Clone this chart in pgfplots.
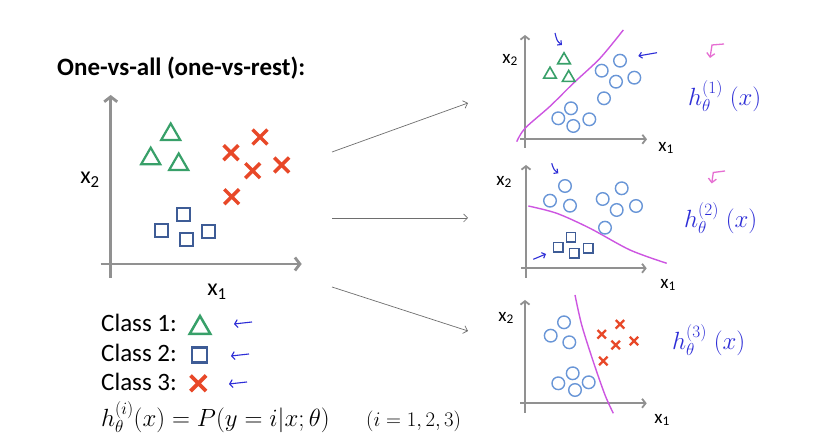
\documentclass[border=0pt]{standalone}
\usepackage{pgfplots}
\pgfplotsset{compat=1.18}
\usepackage{fontspec}
\setmainfont{Carlito}
\usetikzlibrary{arrows.meta}
\definecolor{cgreen}{RGB}{56,160,105}
\definecolor{cred}{RGB}{232,72,40}
\definecolor{cblue}{RGB}{62,92,150}
\definecolor{clight}{RGB}{105,150,215}
\definecolor{cmag}{RGB}{205,85,225}
\definecolor{axgray}{RGB}{145,145,145}
\definecolor{hand}{RGB}{45,45,215}
\definecolor{cpink}{RGB}{230,110,210}
\definecolor{arrgray}{RGB}{110,110,110}
\pgfplotsset{
  baseax/.style={x=1pt, y=1pt, axis lines=middle, anchor=south west,
    xtick=\empty, ytick=\empty, enlargelimits=false, clip=false},
  mainax/.style={baseax, axis line style={draw=axgray, line width=2.8pt,
    -{Straight Barb[length=5pt,width=13pt]}}},
  smallax/.style={baseax, axis line style={draw=axgray, line width=1.8pt,
    -{Straight Barb[length=3.5pt,width=9pt]}}},
}
\begin{document}
\begin{tikzpicture}[x=1pt,y=1pt]
\path[use as bounding box, fill=white] (0,0) rectangle (835,443);

% ---------- main plot ----------
\begin{axis}[mainax, at={(100.7pt,165pt)}, xmin=-10, xmax=191, ymin=-14, ymax=169]
\addplot[only marks, color=cgreen, mark=triangle, mark size=11pt, mark options={line width=2.2pt}]
  coordinates {(60,129.5) (40,105.3) (68,99.5)};
\addplot[only marks, color=cred, mark=x, mark size=10.5pt, mark options={line width=3.5pt}]
  coordinates {(149.3,127) (120.3,111.3) (142,93.3) (171,99) (121,67.3)};
\addplot[only marks, color=cblue, mark=square, mark size=6.5pt, mark options={line width=2pt}]
  coordinates {(72.6,49) (50.3,33.3) (97.6,32.3) (76,24)};
% legend marks
\addplot[only marks, color=cgreen, mark=triangle, mark size=12pt, mark options={line width=2.5pt}]
  coordinates {(89.3,-64)};
\addplot[only marks, color=cblue, mark=square, mark size=7.5pt, mark options={line width=2.2pt}]
  coordinates {(88.6,-91)};
\addplot[only marks, color=cred, mark=x, mark size=11pt, mark options={line width=3.8pt}]
  coordinates {(87.6,-119.3)};
\end{axis}
\node at (90,263) {\fontsize{24}{28}\selectfont x\textsubscript{2}};
\node at (217,151) {\fontsize{24}{28}\selectfont x\textsubscript{1}};

% ---------- small plot 1 ----------
\begin{axis}[smallax, at={(520pt,295pt)}, xmin=-5, xmax=122, ymin=-8.7, ymax=104.3]
\addplot[cmag, line width=1.4pt, smooth, no marks]
  coordinates {(-8.3,-2.4) (0,11) (25,33) (48.3,56) (75,81) (98.3,109.3)};
\addplot[only marks, color=cgreen, mark=triangle, mark size=7.3pt, mark options={line width=1.6pt}]
  coordinates {(39,79.2) (25,64.8) (43.7,61.5)};
\addplot[only marks, color=clight, mark=o, mark size=6.3pt, mark options={line width=1.4pt}]
  coordinates {(76.7,68.6) (95,78.6) (91,57.6) (109.3,61.6) (79,41) (46,31) (33.3,21) (48.3,13.3) (64.3,20)};
\end{axis}
\node at (510,383) {\fontsize{19}{22}\selectfont x\textsubscript{2}};
\node at (666,295) {\fontsize{19}{22}\selectfont x\textsubscript{1}};

% ---------- small plot 2 ----------
\begin{axis}[smallax, at={(521pt,165pt)}, xmin=-5, xmax=120.7, ymin=-9.7, ymax=103.3]
\addplot[cmag, line width=1.4pt, smooth, no marks]
  coordinates {(2.3,62.3) (30.7,55) (64,40) (104,18.3) (140.7,5)};
\addplot[only marks, color=clight, mark=o, mark size=6.3pt, mark options={line width=1.4pt}]
  coordinates {(39,82.3) (24,67.6) (44,62.6) (76.7,69.3) (95.7,80) (90.7,58.3) (110,62.3) (79,40.6)};
\addplot[only marks, color=cblue, mark=square, mark size=4.6pt, mark options={line width=1.4pt}]
  coordinates {(45,31) (32.3,21) (48.3,15) (62.3,20)};
\end{axis}
\node at (504,261) {\fontsize{19}{22}\selectfont x\textsubscript{2}};
\node at (668,158) {\fontsize{19}{22}\selectfont x\textsubscript{1}};

% ---------- small plot 3 ----------
\begin{axis}[smallax, at={(520pt,30pt)}, xmin=-5, xmax=121.7, ymin=-9.7, ymax=103.3]
\addplot[cmag, line width=1.4pt, smooth, no marks]
  coordinates {(50,108.3) (56.7,78.3) (68.3,41.6) (80,8.3) (88.3,-10)};
\addplot[only marks, color=clight, mark=o, mark size=6.3pt, mark options={line width=1.4pt}]
  coordinates {(39,81) (25.7,67.6) (44.3,61) (47.7,30) (33.3,20) (50,13.3) (63.7,21)};
\addplot[only marks, color=cred, mark=x, mark size=6pt, mark options={line width=2.3pt}]
  coordinates {(95,79) (76.7,69) (90.7,58.3) (109,62.3) (78.3,42.3)};
\end{axis}
\node at (506,125) {\fontsize{19}{22}\selectfont x\textsubscript{2}};
\node at (662,23) {\fontsize{19}{22}\selectfont x\textsubscript{1}};

% ---------- connecting arrows ----------
\draw[arrgray, line width=0.7pt, -{Straight Barb[length=4pt,width=8pt]}] (332,291) -- (468,340);
\draw[arrgray, line width=0.7pt, -{Straight Barb[length=4pt,width=8pt]}] (332,225) -- (468,225);
\draw[arrgray, line width=0.7pt, -{Straight Barb[length=4pt,width=8pt]}] (332,156) -- (468,112);

% ---------- texts ----------
\node[anchor=base west, inner sep=0] at (57,367) {\fontsize{25}{30}\selectfont\bfseries One-vs-all (one-vs-rest):};
\node[anchor=base west, inner sep=0] at (101,111) {\fontsize{25}{30}\selectfont Class 1:};
\node[anchor=base west, inner sep=0] at (101,81) {\fontsize{25}{30}\selectfont Class 2:};
\node[anchor=base west, inner sep=0] at (101,52.3) {\fontsize{25}{30}\selectfont Class 3:};
\node[anchor=base west, inner sep=0] at (101,16) {\fontsize{23.5}{28}\selectfont $h_\theta^{(i)}(x)=P(y=i|x;\theta)$};
\node[anchor=base west, inner sep=0] at (366,16) {\fontsize{21}{26}\selectfont $(i=1,2,3)$};

% handwritten annotations
\draw[hand, line width=1.1pt, -{Straight Barb[length=3pt,width=8pt]}] (252,121) -- (234,119);
\draw[hand, line width=1.1pt, -{Straight Barb[length=3pt,width=8pt]}] (249,89) -- (231,87);
\draw[hand, line width=1.1pt, -{Straight Barb[length=3pt,width=8pt]}] (247,61) -- (229,59);
\draw[hand, line width=1.1pt, -{Straight Barb[length=3pt,width=6pt]}] (555,410) .. controls (557,402) .. (562,398);
\draw[hand, line width=1.1pt, -{Straight Barb[length=3pt,width=6pt]}] (657,390.3) .. controls (648,389) .. (638.3,387);
\draw[hand, line width=1.1pt, -{Straight Barb[length=3pt,width=6pt]}] (551.7,279.7) .. controls (554,273) .. (558.3,269.7);
\draw[hand, line width=1.1pt, -{Straight Barb[length=3pt,width=6pt]}] (533.3,183.7) -- (546,189);
\draw[cpink, line width=1.3pt, -{Straight Barb[length=4pt,width=8pt]}] (724,399) -- (712,398) -- (710,385);
\draw[cpink, line width=1.3pt, -{Straight Barb[length=4pt,width=8pt]}] (725,272) -- (713.3,270.5) -- (711.7,259.5);
\node[anchor=base west, inner sep=0, text=hand] at (688,337) {\fontsize{26}{30}\selectfont $h_{\theta}^{(1)}\;(x)$};
\node[anchor=base west, inner sep=0, text=hand] at (684,215) {\fontsize{26}{30}\selectfont $h_{\theta}^{(2)}\;(x)$};
\node[anchor=base west, inner sep=0, text=hand] at (672,93) {\fontsize{26}{30}\selectfont $h_{\theta}^{(3)}\;(x)$};
\end{tikzpicture}
\end{document}
